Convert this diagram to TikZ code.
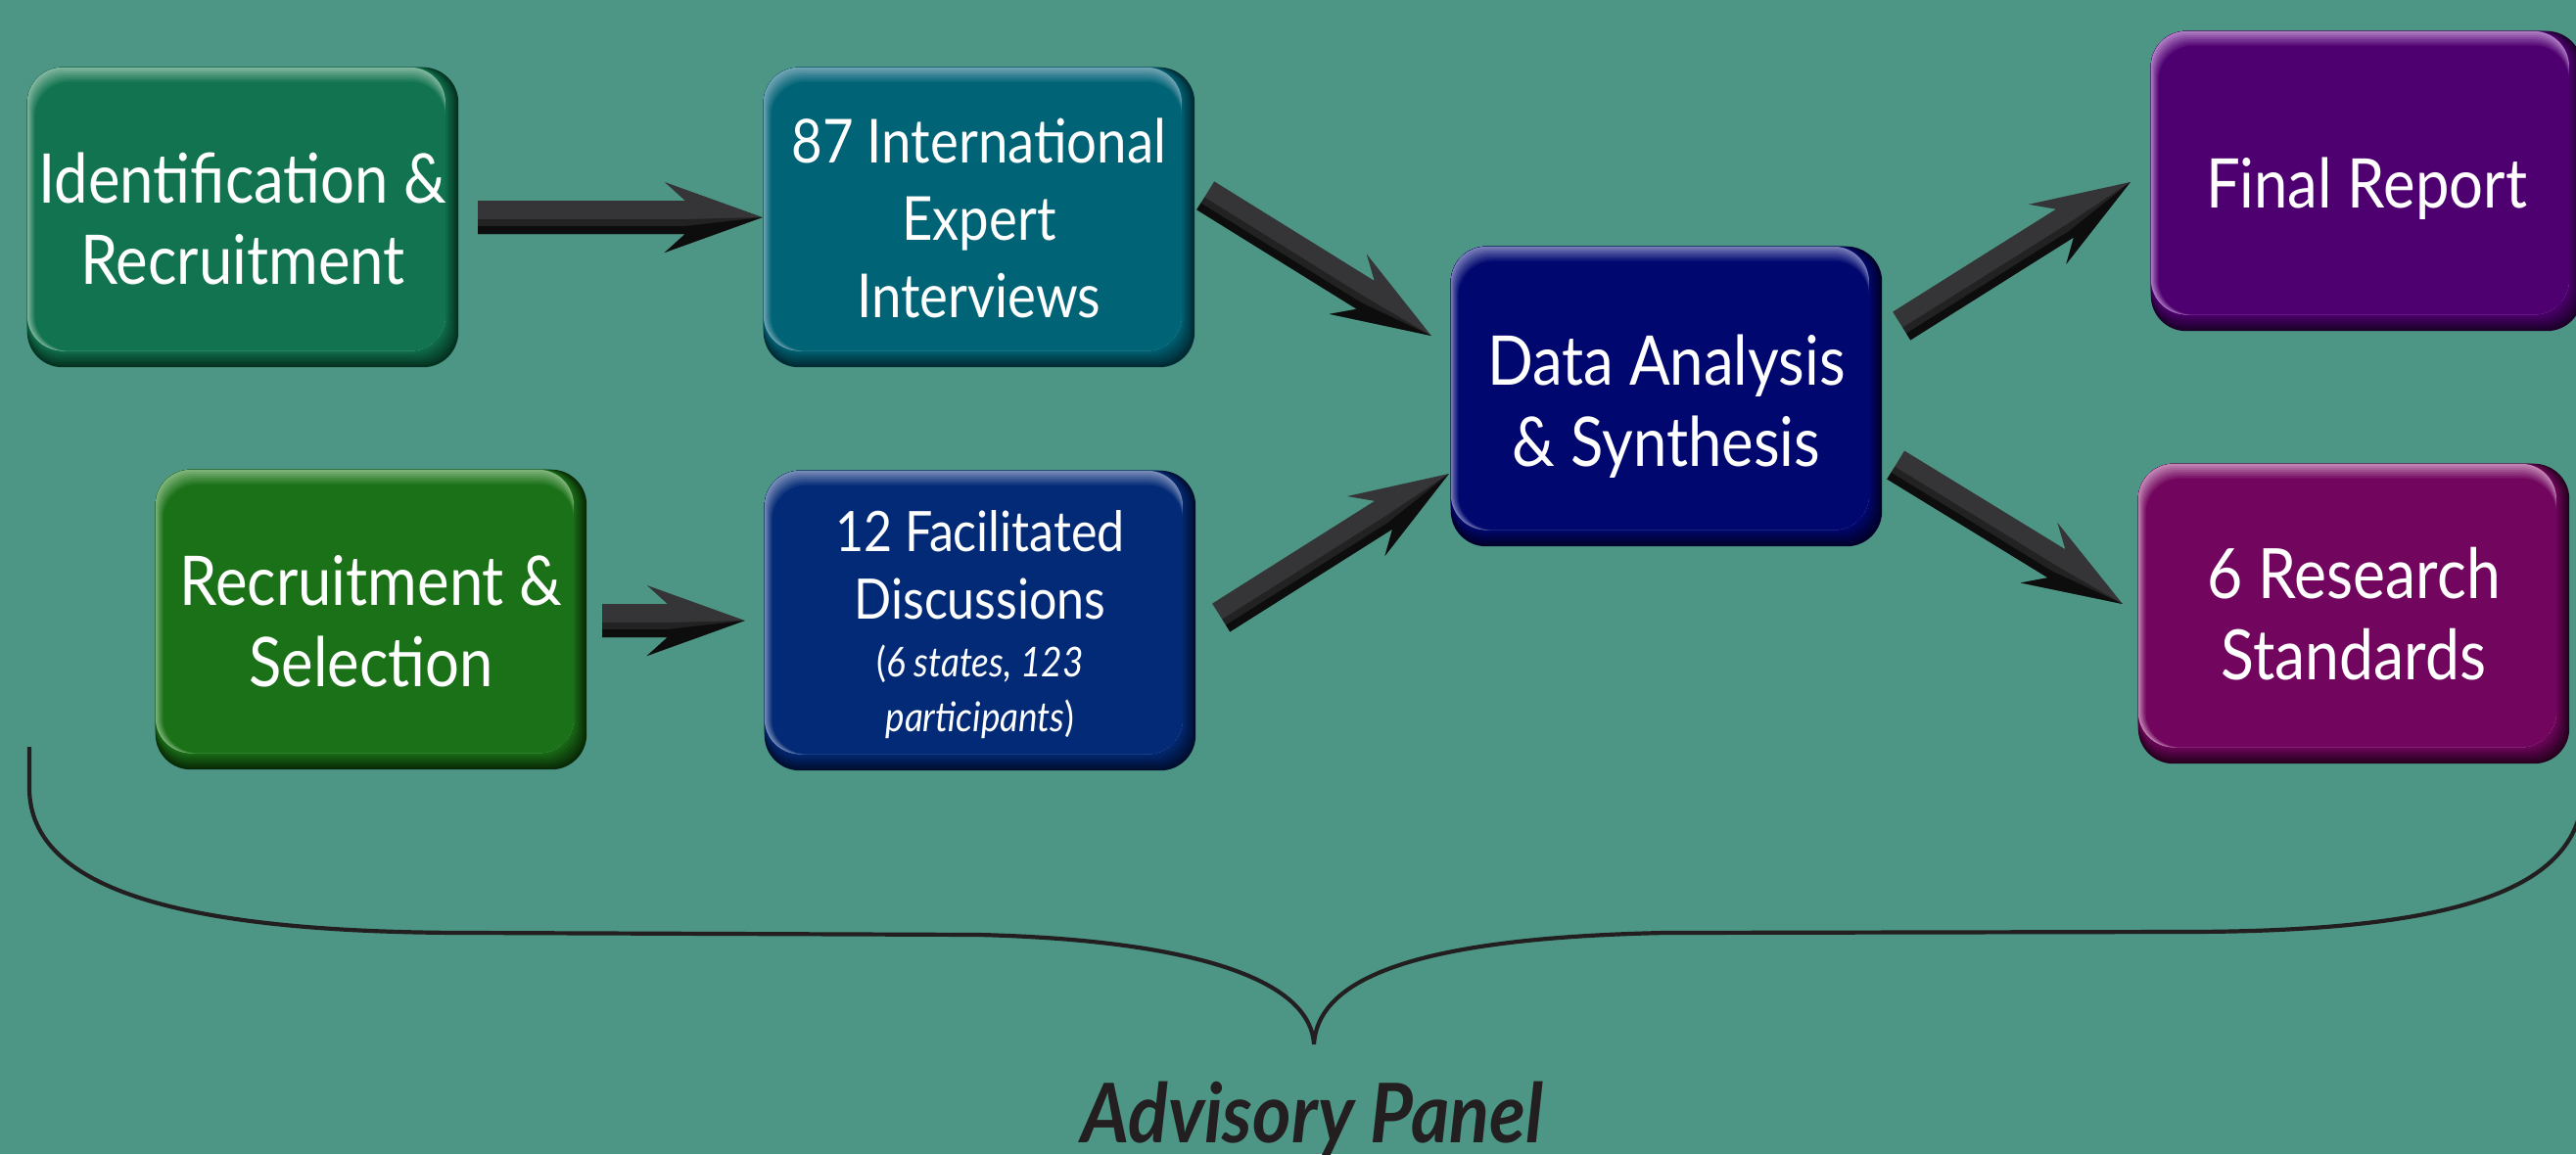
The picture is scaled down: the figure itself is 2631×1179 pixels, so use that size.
\documentclass[tikz,border=0pt]{standalone}
\usepackage{fontspec}
\setmainfont{Lato}
\newfontfamily\boxfont{Lato}[FakeStretch=0.88]
\newfontfamily\panelfont{Lato}[FakeStretch=0.9]
\usetikzlibrary{calc}
\definecolor{bgcol}{RGB}{77,149,133}
\definecolor{arrowgray}{RGB}{53,53,55}
\definecolor{braceink}{RGB}{35,31,32}
\definecolor{mA}{RGB}{17,115,80}\definecolor{lA}{RGB}{125,180,155}\definecolor{dA}{RGB}{4,50,32}
\definecolor{mB}{RGB}{0,100,118}\definecolor{lB}{RGB}{110,162,178}\definecolor{dB}{RGB}{0,42,52}
\definecolor{mC}{RGB}{27,113,24}\definecolor{lC}{RGB}{125,178,120}\definecolor{dC}{RGB}{8,42,7}
\definecolor{mD}{RGB}{2,42,118}\definecolor{lD}{RGB}{118,138,182}\definecolor{dD}{RGB}{0,14,48}
\definecolor{mE}{RGB}{0,8,112}\definecolor{lE}{RGB}{118,122,182}\definecolor{dE}{RGB}{0,0,42}
\definecolor{mF}{RGB}{78,0,112}\definecolor{lF}{RGB}{172,122,192}\definecolor{dF}{RGB}{28,0,42}
\definecolor{mG}{RGB}{114,6,94}\definecolor{lG}{RGB}{192,132,178}\definecolor{dG}{RGB}{38,0,30}
\pgfdeclarelayer{bg}
\pgfsetlayers{bg,main}
\newcommand{\celltext}[2]{\raisebox{-#1}[\height][\depth]{\begin{tabular}{@{}c@{}}#2\end{tabular}}}
\newcommand{\boxbg}[4]{%
  \foreach \i in {0,...,7}{%
    \pgfmathsetmacro\bxpct{\i/7*100}%
    \fill[rounded corners=36pt, #2!\bxpct!#4] (#1.north west) rectangle ($(#1.south east)+(-\i*1.9,-\i*2.4)$);
  }%
  \foreach \i in {0,...,7}{%
    \pgfmathsetmacro\bxpct{\i/7*100}%
    \fill[rounded corners=36pt, #2!\bxpct!#3] ($(#1.north west)+(\i*1.1,\i*2.1)$) rectangle ($(#1.south east)+(-13.3,-16.8)$);
  }%
}
\newcommand{\blockarrow}[2]{%
  \coordinate (arJ) at ($(#2)!79pt!(#1)$);
  \coordinate (arB) at ($(#2)!100pt!(#1)$);
  \fill[arrowgray] ($(#1)!17pt!90:(#2)$) -- ($(arJ)!17pt!90:(#2)$) -- ($(arB)!36pt!90:(#2)$) -- (#2)
    -- ($(arB)!36pt!-90:(#2)$) -- ($(arJ)!17pt!-90:(#2)$) -- ($(#1)!17pt!-90:(#2)$) -- cycle;
  \fill[black, opacity=.35] ($(#1)!17pt!-90:(#2)$) -- ($(arJ)!17pt!-90:(#2)$) -- ($(arB)!36pt!-90:(#2)$) -- (#2)
    -- ($(arJ)!2pt!-90:(#2)$) -- ($(#1)!2pt!-90:(#2)$) -- cycle;
  \fill[black, opacity=.6] ($(#1)!17pt!-90:(#2)$) -- ($(arJ)!17pt!-90:(#2)$) -- ($(arB)!36pt!-90:(#2)$) -- (#2)
    -- ($(arJ)!9pt!-90:(#2)$) -- ($(#1)!9pt!-90:(#2)$) -- cycle;
}
\begin{document}
\begin{tikzpicture}[x=1pt,y=-1pt,
  stagebox/.style={minimum width=440pt, minimum height=306pt, inner sep=0pt, text=white,
    font=\boxfont\fontsize{70}{83}\selectfont},
  panel/.style={text=braceink, inner sep=0pt, font=\panelfont\bfseries\itshape\fontsize{84}{90}\selectfont},
  brace/.style={draw=braceink, line width=4.2pt}]
\useasboundingbox (0,0) rectangle (2631,1179);
\clip (0,0) rectangle (2631,1179);
\begin{pgfonlayer}{bg}
\fill[bgcol] (0,0) rectangle (2631,1179);
\end{pgfonlayer}

\node[stagebox] (n1) at (248,222) {\celltext{10pt}{Identification \&\\Recruitment}};
\node[stagebox, font=\boxfont\fontsize{62}{79}\selectfont] (n2) at (1000,222)
  {\celltext{8pt}{87 International\\Expert\\Interviews}};
\node[stagebox] (n3) at (379,633) {\celltext{10pt}{Recruitment \&\\Selection}};
\node[stagebox, font=\boxfont\fontsize{57}{69}\selectfont] (n4) at (1001,634)
  {\celltext{8pt}{12 Facilitated\\Discussions\\[-10pt]
   {\fontsize{42}{50}\selectfont(\textit{6 states, 123}}\\[-13pt]
   {\fontsize{42}{50}\selectfont\textit{participants})}}};
\node[stagebox] (n5) at (1702,405) {\celltext{13pt}{Data Analysis\\\& Synthesis}};
\node[stagebox] (n6) at (2417,185) {\celltext{11pt}{Final Report}};
\node[stagebox, font=\boxfont\fontsize{71}{83}\selectfont] (n7) at (2404,627) {\celltext{9pt}{6 Research\\Standards}};

\begin{pgfonlayer}{bg}
\boxbg{n1}{mA}{lA}{dA}
\boxbg{n2}{mB}{lB}{dB}
\boxbg{n3}{mC}{lC}{dC}
\boxbg{n4}{mD}{lD}{dD}
\boxbg{n5}{mE}{lE}{dE}
\boxbg{n6}{mF}{lF}{dF}
\boxbg{n7}{mG}{lG}{dG}
\end{pgfonlayer}

\coordinate (t1) at ($(n1.east)+(20,0)$);   \coordinate (h1) at ($(n2.west)+(-1,0)$);
\coordinate (t2) at ($(n3.east)+(16,1)$);   \coordinate (h2) at ($(n4.west)+(-20,0)$);
\coordinate (t3) at ($(n2.north east)+(11,131)$); \coordinate (h3) at ($(n5.west)+(-20,-62)$);
\coordinate (t4) at ($(n4.east)+(26,-3)$);  \coordinate (h4) at ($(n5.west)+(-2,79)$);
\coordinate (t5) at ($(n5.east)+(20,-72)$); \coordinate (h5) at ($(n6.west)+(-21,1)$);
\coordinate (t6) at ($(n5.east)+(14,70)$);  \coordinate (h6) at ($(n7.west)+(-16,-10)$);

\blockarrow{t1}{h1}
\blockarrow{t2}{h2}
\blockarrow{t3}{h3}
\blockarrow{t4}{h4}
\blockarrow{t5}{h5}
\blockarrow{t6}{h6}

\coordinate (bl) at (30,763);
\coordinate (bm) at (1342,1067);
\coordinate (br) at (2638,763);
\draw[brace] (bl) -- (30,805) .. controls (30,910) and (190,953) .. (480,953) -- (1000,955)
  .. controls (1200,960) and (1338,995) .. (bm)
  .. controls (1346,995) and (1460,958) .. (1700,953) -- (2230,952)
  .. controls (2520,952) and (2638,905) .. (2638,805) -- (br);

\node[panel, anchor=base] (adv) at (1340,1167) {Advisory Panel};
\end{tikzpicture}
\end{document}
